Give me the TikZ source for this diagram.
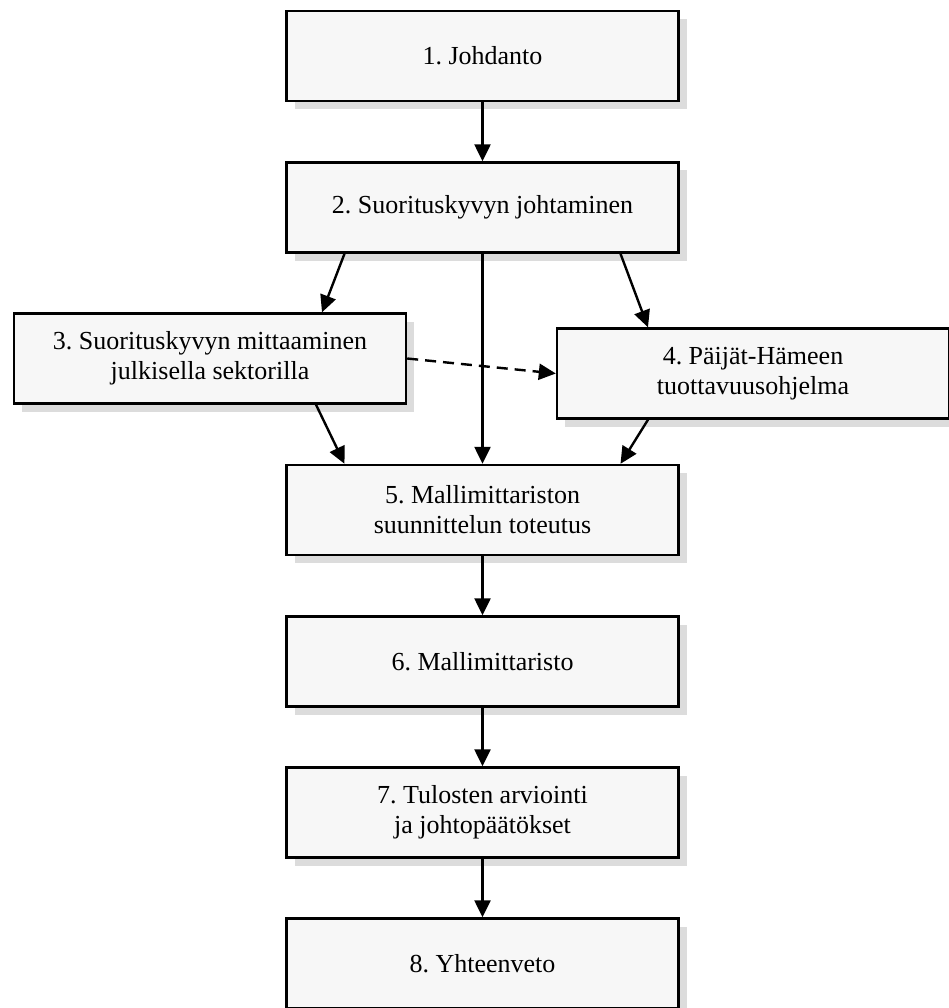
\documentclass[tikz,border=0pt]{standalone}
\usepackage{fontspec}
\setmainfont{Liberation Serif}
\usetikzlibrary{arrows.meta,calc,shadows}
\definecolor{boxfill}{RGB}{247,247,247}
\definecolor{shadefill}{RGB}{220,220,220}
\frenchspacing
\begin{document}
\begin{tikzpicture}[x=1pt,y=-1pt,
  stagebox/.style={draw=black, line width=2.4pt, fill=boxfill,
    minimum width=392pt, minimum height=90pt, inner sep=0pt,
    align=center, font=\fontsize{26}{30}\selectfont,
    drop shadow={shadow xshift=8pt, shadow yshift=-8pt, fill=shadefill, opacity=1}},
  flow/.style={line width=2.4pt, -{Triangle[length=17pt,width=16pt]}},
  altflow/.style={flow, dashed, dash pattern=on 11pt off 7pt}]
\useasboundingbox (0,0) rectangle (948,1008);
\node[stagebox] (b1) at (482.5,56)    {1. Johdanto};
\node[stagebox] (b2) at (482.5,207.5) {2. Suorituskyvyn johtaminen};
\node[stagebox] (b3) at (210,358.5)   {3. Suorituskyvyn mittaaminen\\julkisella sektorilla};
\node[stagebox] (b4) at (753,373.5)   {4. Päijät-Hämeen\\tuottavuusohjelma};
\node[stagebox] (b5) at (482.5,510)   {5. Mallimittariston\\suunnittelun toteutus};
\node[stagebox] (b6) at (482.5,661.5) {6. Mallimittaristo};
\node[stagebox] (b7) at (482.5,812.5) {7. Tulosten arviointi\\ja johtopäätökset};
\node[stagebox] (b8) at (482.5,963.5) {8. Yhteenveto};

\draw[flow] (b1) -- (b2);
\draw[flow] ($(b2.south)+(-138,0)$) -- ($(b3.north)+(112,0)$);
\draw[flow] ($(b2.south)+(138,0)$) -- ($(b4.north)+(-105,0)$);
\draw[flow] (b2) -- (b5);
\draw[altflow] (b3.east) -- (b4.west);
\draw[flow] ($(b3.south)+(106,0)$) -- ($(b5.north)+(-138,0)$);
\draw[flow] ($(b4.south)+(-105,0)$) -- ($(b5.north)+(138,0)$);
\draw[flow] (b5) -- (b6);
\draw[flow] (b6) -- (b7);
\draw[flow] (b7) -- (b8);
\end{tikzpicture}
\end{document}
